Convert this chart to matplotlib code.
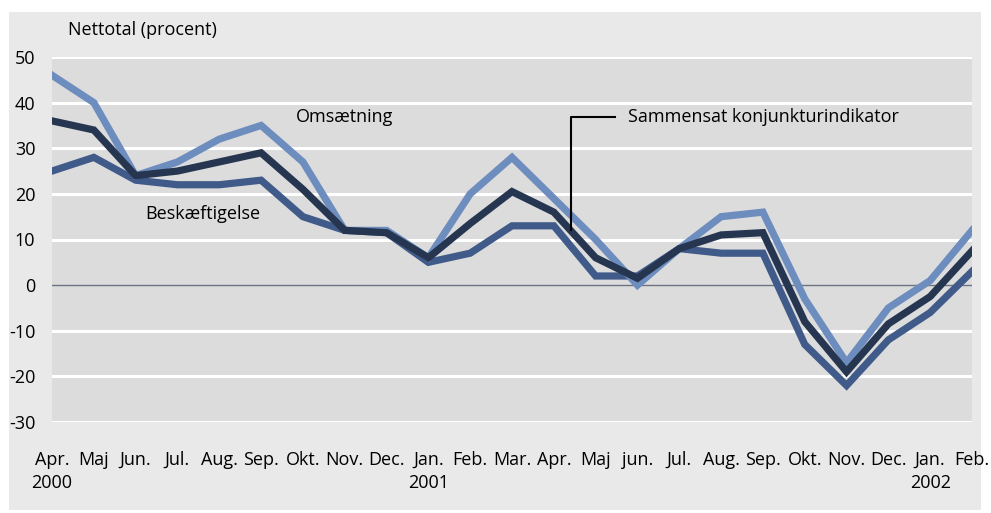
import matplotlib.pyplot as plt
from matplotlib.patches import Rectangle

months = ['Apr.', 'Maj', 'Jun.', 'Jul.', 'Aug.', 'Sep.', 'Okt.', 'Nov.', 'Dec.',
          'Jan.', 'Feb.', 'Mar.', 'Apr.', 'Maj', 'jun.', 'Jul.', 'Aug.', 'Sep.',
          'Okt.', 'Nov.', 'Dec.', 'Jan.', 'Feb.']
years = {0: '2000', 9: '2001', 21: '2002'}

omsaetning = [46, 40, 24, 27, 32, 35, 27, 12, 12, 6, 20, 28, 19, 10, 0, 8,
              15, 16, -3, -17, -5, 1, 12]
sammensat = [36, 34, 24, 25, 27, 29, 21, 12, 11.5, 6, 13.5, 20.5, 16, 6, 1.5, 8,
             11, 11.5, -8, -19, -8.5, -2.5, 7.5]
beskaeft = [25, 28, 23, 22, 22, 23, 15, 12, 11.5, 5, 7, 13, 13, 2, 2, 8,
            7, 7, -13, -22, -12, -6, 3]

plt.rcParams['font.family'] = ['Open Sans', 'DejaVu Sans']
plt.rcParams['axes.unicode_minus'] = False
fs = 13

W, H = 991, 513
fig = plt.figure(figsize=(W / 100, H / 100), dpi=100)
fig.patches.append(Rectangle((9 / W, 1 - 510 / H), (981 - 9) / W, (510 - 12) / H,
                             transform=fig.transFigure, facecolor='#e9e9e9',
                             edgecolor='none', zorder=-10))

ax = fig.add_axes([52 / W, 1 - 422 / H, (972 - 52) / W, (422 - 57) / H])
ax.set_facecolor('#dcdcdc')
x = list(range(len(months)))

ax.plot(x, beskaeft, color='#405b8a', lw=5.2, solid_joinstyle='miter', zorder=3)
ax.plot(x, omsaetning, color='#6d8dbe', lw=5.2, solid_joinstyle='miter', zorder=4)
ax.plot(x, sammensat, color='#263650', lw=5.2, solid_joinstyle='miter', zorder=5)

ax.set_xlim(0, len(months) - 1)
ax.set_ylim(-30, 50)
ax.set_yticks(range(-30, 51, 10))
for v in range(-30, 51, 10):
    if v == 0:
        ax.axhline(v, color='#6b7383', lw=1.0, zorder=2)
    else:
        ax.axhline(v, color='white', lw=2.2, zorder=1)

for s in ax.spines.values():
    s.set_visible(False)
ax.tick_params(axis='y', length=0, labelsize=fs, pad=12)
ax.tick_params(axis='x', length=0, labelsize=fs, pad=21)
ax.set_xticks(x)
ax.set_xticklabels([m + ('\n' + years[i] if i in years else '\n') for i, m in enumerate(months)],
                   linespacing=1.35)

fig.text(68 / W, 1 - 30 / H, 'Nettotal (procent)', fontsize=fs, va='center', ha='left')

ax.text(7.0, 36.8, 'Omsætning', fontsize=fs, ha='center', va='center')
ax.text(3.6, 15.6, 'Beskæftigelse', fontsize=fs, ha='center', va='center')
ax.plot([12.4, 12.4, 13.47], [12.1, 36.8, 36.8], color='black', lw=1.5, zorder=6)
ax.text(13.78, 36.8, 'Sammensat konjunkturindikator', fontsize=fs, ha='left', va='center')

fig.savefig('out.png', dpi=100)
